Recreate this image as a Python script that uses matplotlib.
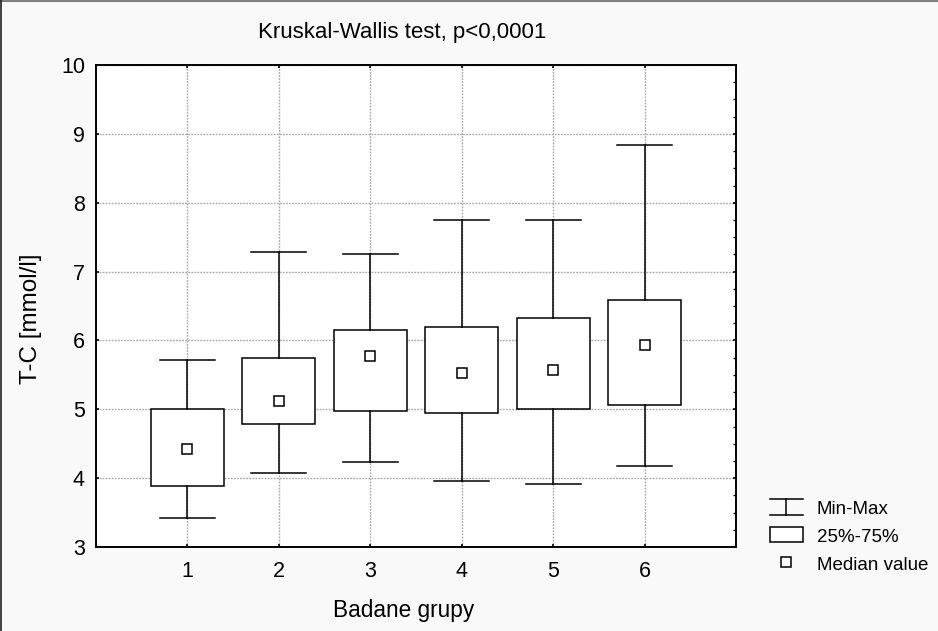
import matplotlib
matplotlib.use("Agg")
import matplotlib.pyplot as plt
from matplotlib.ticker import MultipleLocator

plt.rcParams['font.family'] = ['Liberation Sans', 'DejaVu Sans']

groups = ['1', '2', '3', '4', '5', '6']
mins = [3.42, 4.08, 4.23, 3.96, 3.92, 4.18]
q1 = [3.88, 4.78, 4.98, 4.95, 5.00, 5.06]
medians = [4.43, 5.12, 5.77, 5.52, 5.57, 5.94]
q3 = [5.01, 5.75, 6.15, 6.20, 6.33, 6.58]
maxs = [5.72, 7.28, 7.25, 7.75, 7.75, 8.84]

title = "Kruskal-Wallis test, p<0,0001"
xlabel = "Badane grupy"
ylabel = "T-C [mmol/l]"
legend_labels = ["Min-Max", "25%-75%", "Median value"]

W, H = 938, 631
fig = plt.figure(figsize=(W / 100, H / 100), dpi=100, facecolor='#f9f9f9')
ax = fig.add_axes([96 / W, 1 - 547 / H, 640 / W, 482 / H])
ax.set_facecolor('white')

positions = list(range(1, len(groups) + 1))
stats = []
for g, lo, a, m, b, hi in zip(groups, mins, q1, medians, q3, maxs):
    stats.append(dict(label=g, whislo=lo, q1=a, med=m, q3=b, whishi=hi, fliers=[]))

lw = 1.1
ax.bxp(stats, positions=positions, widths=0.8, capwidths=0.6, showfliers=False,
       patch_artist=True,
       boxprops=dict(facecolor='white', edgecolor='black', linewidth=lw),
       whiskerprops=dict(color='black', linewidth=lw),
       capprops=dict(color='black', linewidth=lw),
       medianprops=dict(linestyle='none'), zorder=3)
ax.plot(positions, medians, linestyle='none', marker='s', markersize=6.5,
        markerfacecolor='white', markeredgecolor='black', markeredgewidth=1.1, zorder=4)

ax.set_xlim(0, 7)
ax.set_ylim(3, 10)
ax.set_xticks(positions)
ax.set_xticklabels(groups)
ax.yaxis.set_major_locator(MultipleLocator(1))
ax.grid(True, color='#aaaaaa', linestyle=(0, (1.3, 0.9)), linewidth=1.0, zorder=0)
ax.set_axisbelow(True)

for s in ax.spines.values():
    s.set_linewidth(1.4)

ax.tick_params(axis='both', which='major', labelsize=15.5, direction='in', length=2.5,
               top=True, right=True, left=True, bottom=True, width=1.2)
ax.tick_params(axis='y', which='major', pad=8)
ax.tick_params(axis='x', which='major', pad=10)
ax.yaxis.set_minor_locator(MultipleLocator(0.25))
ax.tick_params(axis='y', which='minor', direction='in', length=2.5, left=False, right=True, width=1.0)

fig.text(402 / W, 1 - 38 / H, title, fontsize=16, ha='center', va='baseline')
fig.text(404 / W, 1 - 617 / H, xlabel, fontsize=16.3, ha='center', va='baseline')
fig.text(31 / W, 1 - 319 / H, ylabel, fontsize=17.5, ha='center', va='center', rotation=90)

# overlay for legend and frame
ov = fig.add_axes([0, 0, 1, 1], facecolor='none')
ov.set_xlim(0, W)
ov.set_ylim(H, 0)
ov.axis('off')
ov.plot([0, W], [1, 1], color='#808080', linewidth=1.5)
ov.plot([1, 1], [0, H], color='#222222', linewidth=1.2)

# Min-Max symbol
ov.plot([770, 803], [499, 499], color='black', linewidth=lw)
ov.plot([770, 803], [514.5, 514.5], color='black', linewidth=lw)
ov.plot([786, 786], [499, 514.5], color='black', linewidth=lw)
# box symbol
ov.add_patch(plt.Rectangle((770, 527), 33, 15, facecolor='white', edgecolor='black', linewidth=lw))
# median symbol
ov.plot([786], [562], marker='s', markersize=6.5, markerfacecolor='white',
        markeredgecolor='black', markeredgewidth=1.1, linestyle='none')
for yy, lab in zip([510, 537, 565], legend_labels):
    ov.text(817, yy, lab, fontsize=13.5, va='center', ha='left')

fig.savefig('out.png', dpi=100, facecolor=fig.get_facecolor())
